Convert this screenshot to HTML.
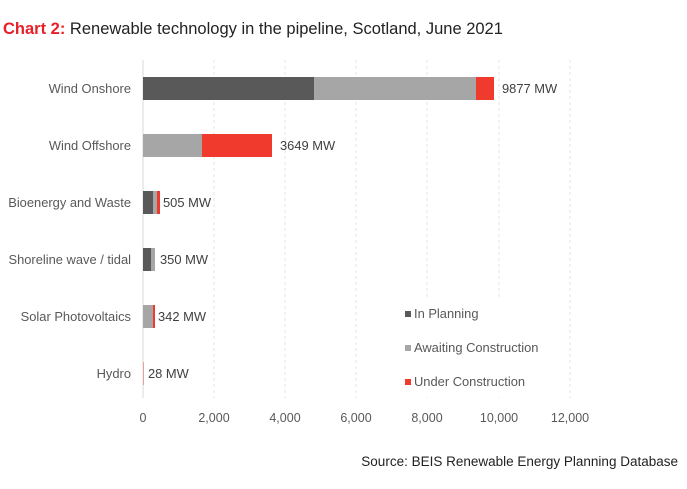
<!DOCTYPE html>
<html><head><style>body{margin:0;background:#fff}svg{display:block}text{font-family:"Liberation Sans",Arial,sans-serif}</style></head>
<body>
<svg width="687" height="489" xmlns="http://www.w3.org/2000/svg">
<rect width="687" height="489" fill="#fff"/>
<text x="3" y="34" font-size="16.5" fill="#222"><tspan fill="#e8202a" font-weight="bold">Chart 2:</tspan> Renewable technology in the pipeline, Scotland, June 2021</text>
<g stroke="#e6e6e6" stroke-width="1" stroke-dasharray="3,3">
<line x1="214" y1="60" x2="214" y2="398"/><line x1="285" y1="60" x2="285" y2="398"/><line x1="356" y1="60" x2="356" y2="398"/><line x1="427" y1="60" x2="427" y2="398"/><line x1="499" y1="60" x2="499" y2="398"/><line x1="570" y1="60" x2="570" y2="398"/>
</g>
<line x1="143" y1="60" x2="143" y2="398" stroke="#d9d9d9"/>
<rect x="390" y="300" width="150" height="97" fill="#fff"/>
<g>
<rect x="143" y="77" width="171" height="23" fill="#595959"/><rect x="314" y="77" width="162" height="23" fill="#a6a6a6"/><rect x="476" y="77" width="18" height="23" fill="#f03a2e"/>
<rect x="143" y="134" width="59" height="23" fill="#a6a6a6"/><rect x="202" y="134" width="70" height="23" fill="#f03a2e"/>
<rect x="143" y="191" width="10" height="23" fill="#595959"/><rect x="153" y="191" width="4" height="23" fill="#a6a6a6"/><rect x="157" y="191" width="3" height="23" fill="#f03a2e"/>
<rect x="143" y="248" width="8" height="23" fill="#595959"/><rect x="151" y="248" width="4" height="23" fill="#a6a6a6"/>
<rect x="143" y="305" width="10" height="23" fill="#a6a6a6"/><rect x="153" y="305" width="2" height="23" fill="#f03a2e"/>
<rect x="143" y="362" width="1" height="23" fill="#e8a0a0"/>
</g>
<g font-size="12.9" fill="#595959" text-anchor="end">
<text x="131" y="93">Wind Onshore</text><text x="131" y="150">Wind Offshore</text><text x="131" y="207">Bioenergy and Waste</text><text x="131" y="264">Shoreline wave / tidal</text><text x="131" y="321">Solar Photovoltaics</text><text x="131" y="378">Hydro</text>
</g>
<g font-size="12.9" fill="#404040">
<text x="502" y="93">9877 MW</text><text x="280" y="150">3649 MW</text><text x="163" y="207">505 MW</text><text x="160" y="264">350 MW</text><text x="158" y="321">342 MW</text><text x="148" y="378">28 MW</text>
</g>
<g font-size="12.5" fill="#595959" text-anchor="middle">
<text x="143" y="422">0</text><text x="214" y="422">2,000</text><text x="285" y="422">4,000</text><text x="356" y="422">6,000</text><text x="427" y="422">8,000</text><text x="499" y="422">10,000</text><text x="570" y="422">12,000</text>
</g>
<g font-size="12.9" fill="#595959">
<rect x="405" y="311" width="6" height="6" fill="#595959"/><text x="414" y="318">In Planning</text>
<rect x="405" y="345" width="6" height="6" fill="#a6a6a6"/><text x="414" y="352">Awaiting Construction</text>
<rect x="405" y="379" width="6" height="6" fill="#f03a2e"/><text x="414" y="386">Under Construction</text>
</g>
<text x="678" y="466" font-size="13.5" fill="#222" text-anchor="end">Source: BEIS Renewable Energy Planning Database</text>
</svg>
</body></html>
